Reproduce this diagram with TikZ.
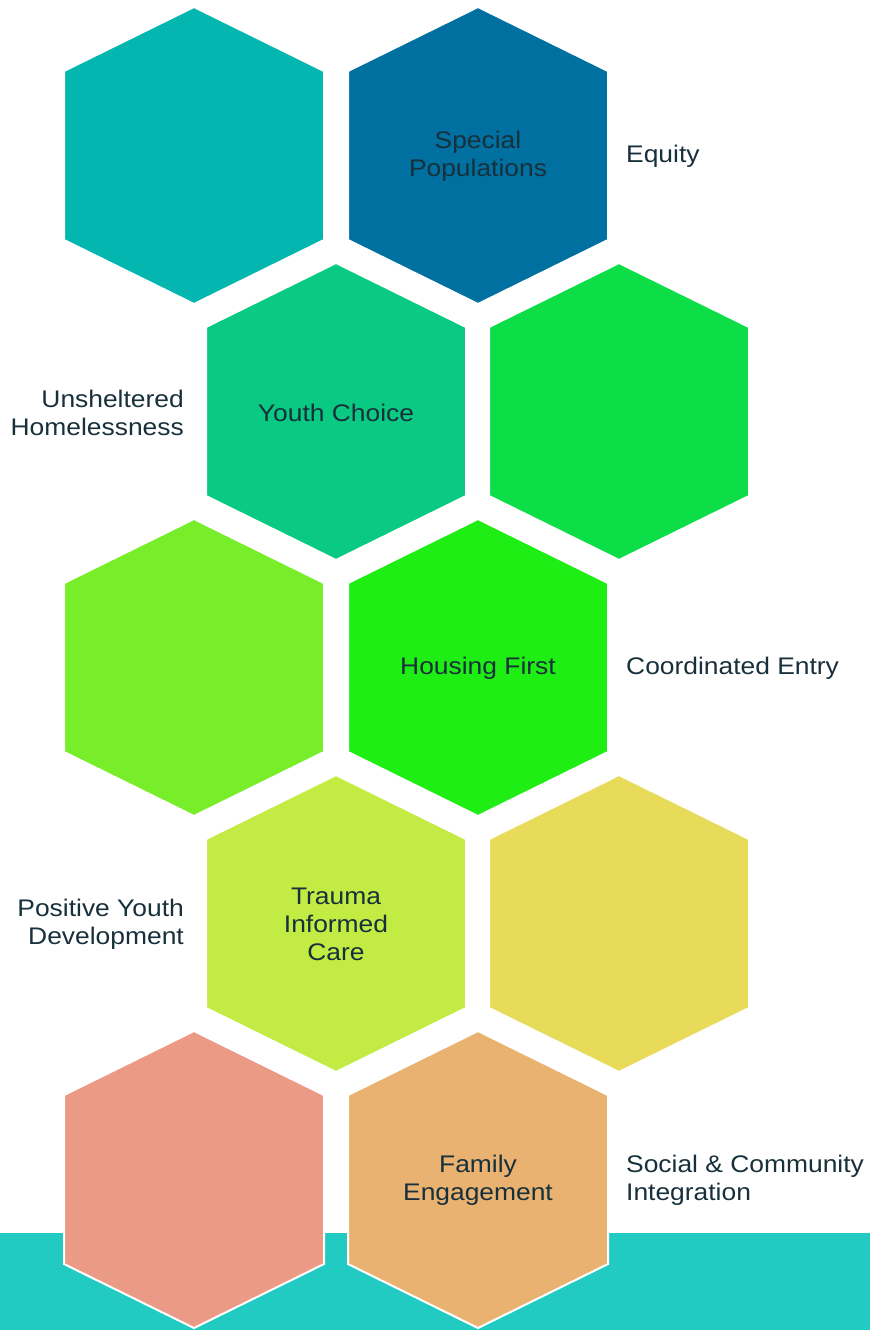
\documentclass[tikz,border=0pt]{standalone}
\usepackage{fontspec}
\setmainfont{Liberation Sans}[FakeStretch=1.1]
\usepackage{tikz}
\usetikzlibrary{positioning}

\definecolor{inktext}{HTML}{17303B}
\definecolor{bandteal}{HTML}{21CBC2}
\definecolor{hexA}{HTML}{04B6B0}
\definecolor{hexB}{HTML}{0070A1}
\definecolor{hexC}{HTML}{09C983}
\definecolor{hexD}{HTML}{0DDE48}
\definecolor{hexE}{HTML}{78EE2B}
\definecolor{hexF}{HTML}{1FEE14}
\definecolor{hexG}{HTML}{C2EB43}
\definecolor{hexH}{HTML}{E8DB5A}
\definecolor{hexI}{HTML}{EB9A86}
\definecolor{hexJ}{HTML}{E9B270}

\begin{document}
\begin{tikzpicture}[
      x=1pt,y=-1pt,
      hexcell/.pic={\path[pic actions] (0,-148.5) -- (130,-84.5) -- (130,84.5) -- (0,148.5) -- (-130,84.5) -- (-130,-84.5) -- cycle;},
      cell/.style={draw=white,line width=2pt},
      inlabel/.style={inner sep=0pt,align=center,text=inktext,font=\fontsize{24}{28}\selectfont},
      outlabel/.style={inner sep=0pt,text=inktext,font=\fontsize{24}{28}\selectfont}
    ]
    \useasboundingbox (0,0) rectangle (870,1330);

    % Band along the bottom
    \fill[bandteal] (0,1233) rectangle (870,1330);

    % Honeycomb, row by row
    \foreach \cx/\cy/\col in {194/155.5/hexA, 478/155.5/hexB,
                              336/411.5/hexC, 619/411.5/hexD,
                              194/667.5/hexE, 478/667.5/hexF,
                              336/923.5/hexG, 619/923.5/hexH,
                              194/1179.5/hexI, 478/1179.5/hexJ}
      \pic[cell,fill=\col] at (\cx,\cy) {hexcell};

    % Labels inside the cells
    \node[inlabel] (SP) at (478,156.5) {Special\\Populations};
    \node[inlabel] (YC) at (336,412.5) {Youth Choice};
    \node[inlabel] (HF) at (478,668.5) {Housing First};
    \node[inlabel] (TIC) at (336,924.5) {Trauma\\Informed\\Care};
    \node[inlabel] (FE) at (478,1180.5) {Family\\Engagement};

    % Labels beside the cells
    \node[outlabel,anchor=west] (EQ) at (626,156.5) {Equity};
    \node[outlabel,anchor=east,align=right] (UH) at (184,412.5) {Unsheltered\\Homelessness};
    \node[outlabel,anchor=west] (CE) at (626,668.5) {Coordinated Entry};
    \node[outlabel,anchor=east,align=right] (PYD) at (184,924.5) {Positive Youth\\Development};
    \node[outlabel,anchor=west,align=left] (SCI) at (626,1180.5) {Social \& Community\\Integration};

  \end{tikzpicture}
\end{document}
